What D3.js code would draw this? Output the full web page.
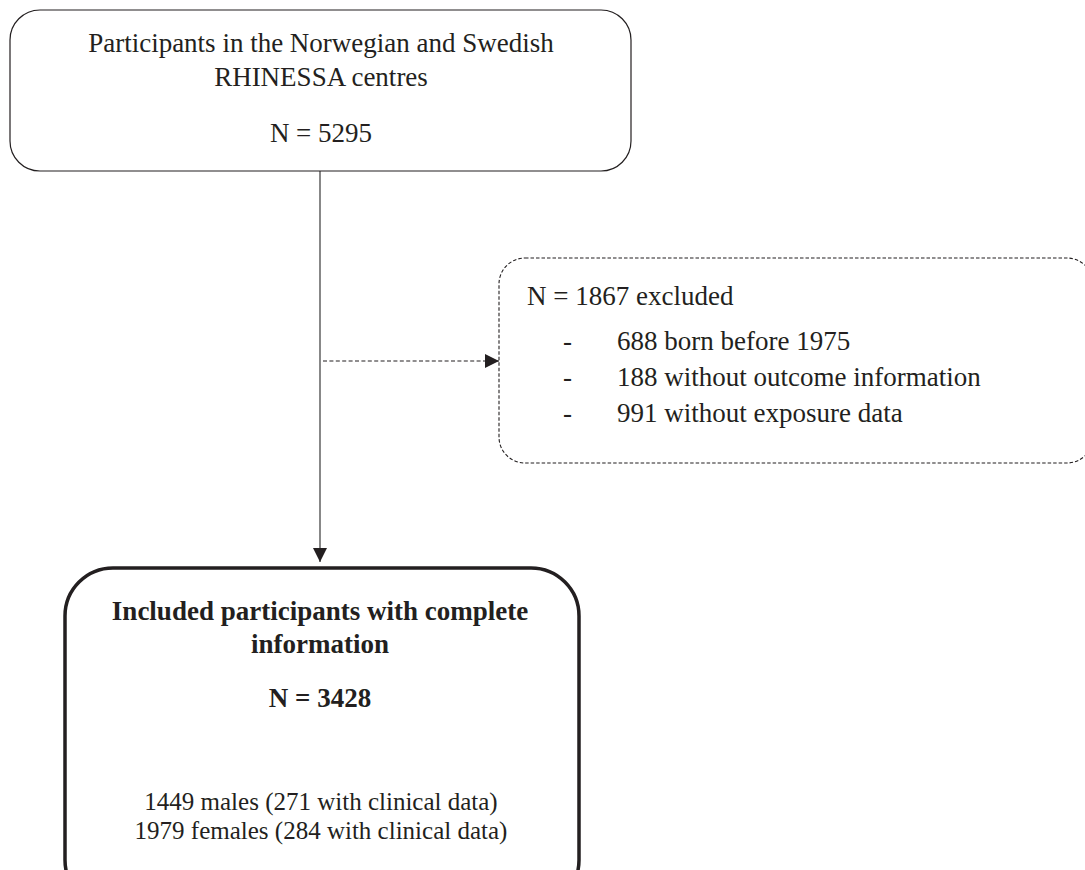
<!DOCTYPE html>
<html>
<head>
<meta charset="utf-8">
<script src="https://cdn.jsdelivr.net/npm/d3@7"></script>
<style>
  body { margin: 0; background: #fff; }
  svg { display: block; }
  text { font-family: "Liberation Serif", "Times New Roman", serif; fill: #231f20; }
</style>
</head>
<body>
<div class="viz"></div>
<script>
const width = 1085;
const height = 870;

// counts from the flow
const totalN = 5295;
const excludedN = 1867;
const includedN = 3428;

const sourceLines = ["Participants in the Norwegian and Swedish", "RHINESSA centres"];
const exclusionReasons = ["688 born before 1975", "188 without outcome information", "991 without exposure data"];
const groupLines = ["1449 males (271 with clinical data)", "1979 females (284 with clinical data)"];
const includedTitle = ["Included participants with complete", "information"];

const svg = d3.select(".viz")
  .append("svg")
  .attr("width", width)
  .attr("height", height);

const ink = "#231f20";

svg.append("defs")
  .append("marker")
  .attr("id", "head")
  .attr("viewBox", "0 0 10 10")
  .attr("refX", 10)
  .attr("refY", 5)
  .attr("markerUnits", "userSpaceOnUse")
  .attr("markerWidth", 15)
  .attr("markerHeight", 14)
  .attr("orient", "auto")
  .append("path")
  .attr("d", "M0,0L10,5L0,10Z")
  .attr("fill", ink);

// boxes
const srcBox = { x: 10, y: 10, w: 621, h: 161, r: 30 };
const exclBox = { x: 499, y: 258, w: 594, h: 205, r: 26 };
const incBox = { x: 65, y: 568, w: 514, h: 340, r: 48 };
const cx = 320;
const tx = 321;

// connectors
svg.append("line")
  .attr("x1", cx).attr("y1", srcBox.y + srcBox.h)
  .attr("x2", cx).attr("y2", incBox.y - 6)
  .attr("stroke", "#555").attr("stroke-width", 1.4)
  .attr("marker-end", "url(#head)");

svg.append("line")
  .attr("x1", cx + 3).attr("y1", 361)
  .attr("x2", exclBox.x).attr("y2", 361)
  .attr("stroke", ink).attr("stroke-width", 1.2)
  .attr("stroke-dasharray", "4,2.4")
  .attr("marker-end", "url(#head)");

svg.append("rect")
  .attr("x", srcBox.x).attr("y", srcBox.y)
  .attr("width", srcBox.w).attr("height", srcBox.h)
  .attr("rx", srcBox.r)
  .attr("fill", "none").attr("stroke", ink).attr("stroke-width", 1.2);

svg.append("rect")
  .attr("x", exclBox.x).attr("y", exclBox.y)
  .attr("width", exclBox.w).attr("height", exclBox.h)
  .attr("rx", exclBox.r)
  .attr("fill", "none").attr("stroke", ink).attr("stroke-width", 1.1)
  .attr("stroke-dasharray", "3.5,2");

svg.append("rect")
  .attr("x", incBox.x).attr("y", incBox.y)
  .attr("width", incBox.w).attr("height", incBox.h)
  .attr("rx", incBox.r)
  .attr("fill", "none").attr("stroke", ink).attr("stroke-width", 3.5);

// top box text
const fs = 27;
svg.append("g")
  .selectAll("text")
  .data(sourceLines)
  .join("text")
  .attr("x", tx)
  .attr("y", (d, i) => 52 + i * 34)
  .attr("text-anchor", "middle")
  .attr("font-size", fs)
  .text(d => d);

svg.append("text")
  .attr("x", tx).attr("y", 142)
  .attr("text-anchor", "middle")
  .attr("font-size", fs)
  .text(`N = ${totalN}`);

// exclusion box text
svg.append("text")
  .attr("x", 527).attr("y", 305)
  .attr("font-size", fs)
  .text(`N = ${excludedN} excluded`);

const reasons = svg.append("g")
  .selectAll("g")
  .data(exclusionReasons)
  .join("g")
  .attr("transform", (d, i) => `translate(0, ${350 + i * 36})`);
reasons.append("text")
  .attr("x", 563)
  .attr("font-size", fs)
  .text("-");
reasons.append("text")
  .attr("x", 617)
  .attr("font-size", fs)
  .text(d => d);

// included box text
svg.append("g")
  .selectAll("text")
  .data(includedTitle)
  .join("text")
  .attr("x", tx - 1)
  .attr("y", (d, i) => 620 + i * 33)
  .attr("text-anchor", "middle")
  .attr("font-size", fs)
  .attr("font-weight", "bold")
  .text(d => d);

svg.append("text")
  .attr("x", tx - 1).attr("y", 707)
  .attr("text-anchor", "middle")
  .attr("font-size", fs)
  .attr("font-weight", "bold")
  .text(`N = ${includedN}`);

svg.append("g")
  .selectAll("text")
  .data(groupLines)
  .join("text")
  .attr("x", tx)
  .attr("y", (d, i) => 810 + i * 29)
  .attr("text-anchor", "middle")
  .attr("font-size", 25)
  .text(d => d);
</script>
</body>
</html>
